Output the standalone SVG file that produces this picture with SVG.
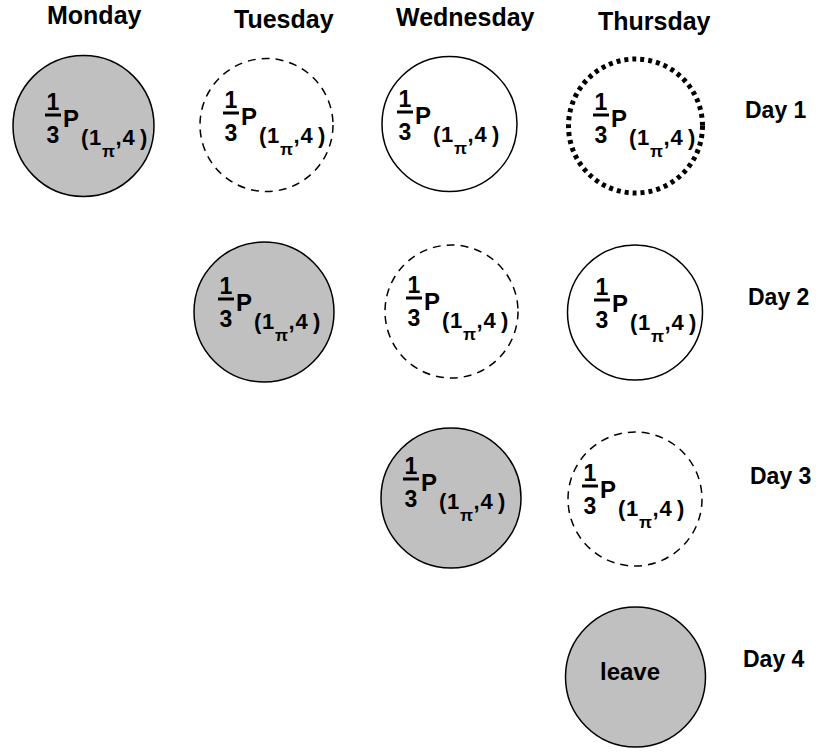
<svg xmlns="http://www.w3.org/2000/svg" width="819" height="753" viewBox="0 0 819 753">
<style>
text{font-family:"Liberation Sans",Arial,sans-serif;font-weight:bold;fill:#000}
.hdr{font-size:25px}
.day{font-size:23px}
.fr{font-size:23px;text-anchor:middle}
.p{font-size:24px}
.sub{font-size:22px}
.pi{font-size:17px}
.bar{stroke:#000;stroke-width:3}
.gray{fill:#c0c0c0;stroke:#000;stroke-width:1.5}
.solid{fill:#fff;stroke:#000;stroke-width:1.5}
.dash{fill:#fff;stroke:#000;stroke-width:1.5;stroke-dasharray:8 6}
.dot{fill:#fff;stroke:#000;stroke-width:5;stroke-dasharray:4 4}
</style>
<g id="headers">
<text class="hdr" x="47" y="24">Monday</text>
<text class="hdr" x="234" y="28">Tuesday</text>
<text class="hdr" x="396" y="26">Wednesday</text>
<text class="hdr" x="598" y="30">Thursday</text>
</g>
<g id="days">
<text class="day" x="745" y="118">Day 1</text>
<text class="day" x="748" y="305">Day 2</text>
<text class="day" x="750" y="484">Day 3</text>
<text class="day" x="743" y="667">Day 4</text>
</g>
<g id="connectors"></g>
<g id="mon-d1">
<circle class="gray" cx="83.5" cy="126" r="70.5"/>
<g transform="translate(45,117)"><text class="fr" x="8" y="-7">1</text><line class="bar" x1="0" y1="-2" x2="16" y2="-2"/><text class="fr" x="8" y="26">3</text><text class="p" x="18" y="10">P</text><text class="sub" y="28"><tspan x="36">(</tspan><tspan x="44">1</tspan><tspan class="pi" x="57" y="40">π</tspan><tspan x="70.5" y="28">,</tspan><tspan x="77.5">4</tspan><tspan x="95">)</tspan></text></g>
</g>
<g id="tue-d1">
<circle class="dash" cx="266.5" cy="125" r="66.5"/>
<g transform="translate(223,115)"><text class="fr" x="8" y="-7">1</text><line class="bar" x1="0" y1="-2" x2="16" y2="-2"/><text class="fr" x="8" y="26">3</text><text class="p" x="18" y="10">P</text><text class="sub" y="28"><tspan x="36">(</tspan><tspan x="44">1</tspan><tspan class="pi" x="57" y="40">π</tspan><tspan x="70.5" y="28">,</tspan><tspan x="77.5">4</tspan><tspan x="95">)</tspan></text></g>
</g>
<g id="wed-d1">
<circle class="solid" cx="449.5" cy="124" r="67.5"/>
<g transform="translate(397,114)"><text class="fr" x="8" y="-7">1</text><line class="bar" x1="0" y1="-2" x2="16" y2="-2"/><text class="fr" x="8" y="26">3</text><text class="p" x="18" y="10">P</text><text class="sub" y="28"><tspan x="36">(</tspan><tspan x="44">1</tspan><tspan class="pi" x="57" y="40">π</tspan><tspan x="70.5" y="28">,</tspan><tspan x="77.5">4</tspan><tspan x="95">)</tspan></text></g>
</g>
<g id="thu-d1">
<circle class="dot" cx="635.5" cy="126" r="67"/>
<g transform="translate(593,117)"><text class="fr" x="8" y="-7">1</text><line class="bar" x1="0" y1="-2" x2="16" y2="-2"/><text class="fr" x="8" y="26">3</text><text class="p" x="18" y="10">P</text><text class="sub" y="28"><tspan x="36">(</tspan><tspan x="44">1</tspan><tspan class="pi" x="57" y="40">π</tspan><tspan x="70.5" y="28">,</tspan><tspan x="77.5">4</tspan><tspan x="95">)</tspan></text></g>
</g>
<g id="tue-d2">
<circle class="gray" cx="264" cy="312" r="70"/>
<g transform="translate(218,301)"><text class="fr" x="8" y="-7">1</text><line class="bar" x1="0" y1="-2" x2="16" y2="-2"/><text class="fr" x="8" y="26">3</text><text class="p" x="18" y="10">P</text><text class="sub" y="28"><tspan x="36">(</tspan><tspan x="44">1</tspan><tspan class="pi" x="57" y="40">π</tspan><tspan x="70.5" y="28">,</tspan><tspan x="77.5">4</tspan><tspan x="95">)</tspan></text></g>
</g>
<g id="wed-d2">
<circle class="dash" cx="451.5" cy="311.5" r="66.5"/>
<g transform="translate(406,300)"><text class="fr" x="8" y="-7">1</text><line class="bar" x1="0" y1="-2" x2="16" y2="-2"/><text class="fr" x="8" y="26">3</text><text class="p" x="18" y="10">P</text><text class="sub" y="28"><tspan x="36">(</tspan><tspan x="44">1</tspan><tspan class="pi" x="57" y="40">π</tspan><tspan x="70.5" y="28">,</tspan><tspan x="77.5">4</tspan><tspan x="95">)</tspan></text></g>
</g>
<g id="thu-d2">
<circle class="solid" cx="635" cy="312.5" r="67.5"/>
<g transform="translate(594,302)"><text class="fr" x="8" y="-7">1</text><line class="bar" x1="0" y1="-2" x2="16" y2="-2"/><text class="fr" x="8" y="26">3</text><text class="p" x="18" y="10">P</text><text class="sub" y="28"><tspan x="36">(</tspan><tspan x="44">1</tspan><tspan class="pi" x="57" y="40">π</tspan><tspan x="70.5" y="28">,</tspan><tspan x="77.5">4</tspan><tspan x="95">)</tspan></text></g>
</g>
<g id="wed-d3">
<circle class="gray" cx="451" cy="498" r="70"/>
<g transform="translate(403,481)"><text class="fr" x="8" y="-7">1</text><line class="bar" x1="0" y1="-2" x2="16" y2="-2"/><text class="fr" x="8" y="26">3</text><text class="p" x="18" y="10">P</text><text class="sub" y="28"><tspan x="36">(</tspan><tspan x="44">1</tspan><tspan class="pi" x="57" y="40">π</tspan><tspan x="70.5" y="28">,</tspan><tspan x="77.5">4</tspan><tspan x="95">)</tspan></text></g>
</g>
<g id="thu-d3">
<circle class="dash" cx="635" cy="499" r="67"/>
<g transform="translate(582,488)"><text class="fr" x="8" y="-7">1</text><line class="bar" x1="0" y1="-2" x2="16" y2="-2"/><text class="fr" x="8" y="26">3</text><text class="p" x="18" y="10">P</text><text class="sub" y="28"><tspan x="36">(</tspan><tspan x="44">1</tspan><tspan class="pi" x="57" y="40">π</tspan><tspan x="70.5" y="28">,</tspan><tspan x="77.5">4</tspan><tspan x="95">)</tspan></text></g>
</g>
<g id="thu-d4">
<circle class="gray" cx="635.5" cy="677" r="70"/>
<text x="600" y="680" style="font-size:24px">leave</text>
</g>
</svg>
